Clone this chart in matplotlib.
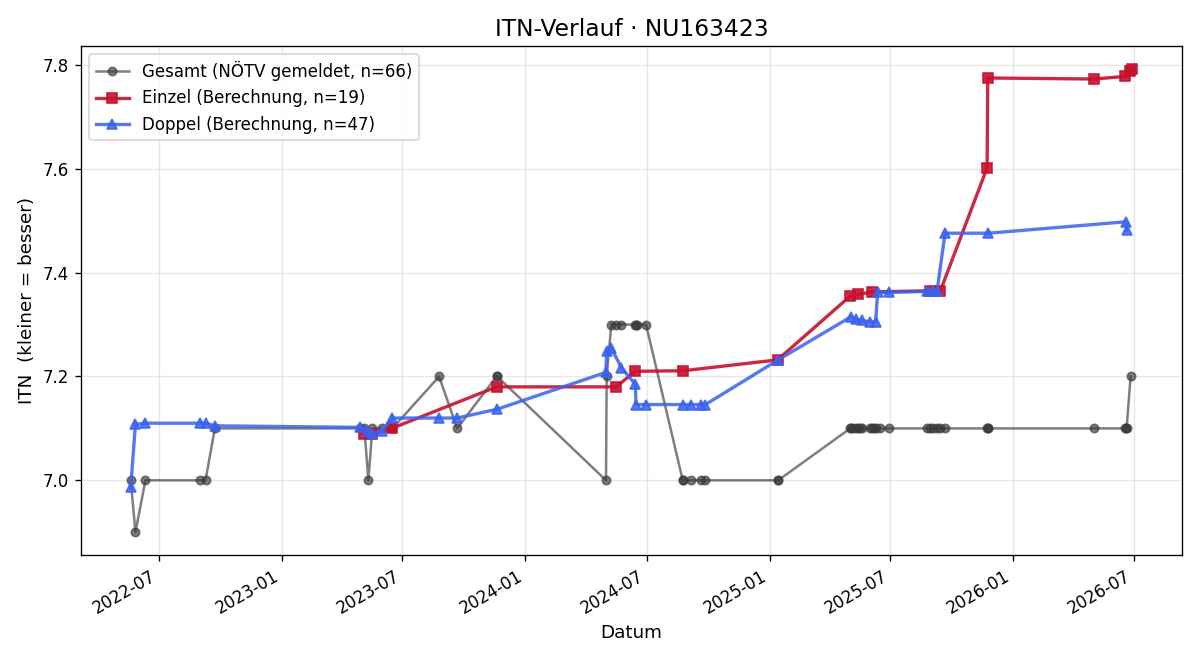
import matplotlib
matplotlib.use("Agg")
import matplotlib.pyplot as plt
import matplotlib.dates as mdates
import pandas as pd

# ---- data ----
gesamt_dates = [
    "2022-05-20", "2022-05-27", "2022-06-11", "2022-08-31", "2022-09-09", "2022-09-23",
    "2023-04-28", "2023-05-05", "2023-05-11", "2023-05-17", "2023-05-31", "2023-06-15",
    "2023-06-16", "2023-08-25", "2023-09-21", "2023-11-19", "2023-11-20",
    "2024-05-01", "2024-05-02", "2024-05-09", "2024-05-16", "2024-05-24", "2024-06-14",
    "2024-06-15", "2024-06-17", "2024-06-30",
    "2024-08-24", "2024-08-25", "2024-09-06", "2024-09-21", "2024-09-27",
    "2025-01-13", "2025-01-14",
    "2025-05-02", "2025-05-03", "2025-05-06", "2025-05-10", "2025-05-14", "2025-05-17",
    "2025-05-20", "2025-06-01", "2025-06-04", "2025-06-06", "2025-06-09", "2025-06-15",
    "2025-06-29",
    "2025-08-25", "2025-08-30", "2025-09-03", "2025-09-09", "2025-09-14", "2025-09-21",
    "2025-11-23", "2025-11-24", "2025-11-25",
    "2026-05-02", "2026-06-18", "2026-06-19", "2026-06-20", "2026-06-26",
]
gesamt_values = [
    7.0, 6.9, 7.0, 7.0, 7.0, 7.1,
    7.1, 7.1, 7.0, 7.1, 7.1, 7.1,
    7.1, 7.2, 7.1, 7.2, 7.2,
    7.0, 7.2, 7.3, 7.3, 7.3, 7.3,
    7.3, 7.3, 7.3,
    7.0, 7.0, 7.0, 7.0, 7.0,
    7.0, 7.0,
    7.1, 7.1, 7.1, 7.1, 7.1, 7.1,
    7.1, 7.1, 7.1, 7.1, 7.1, 7.1,
    7.1,
    7.1, 7.1, 7.1, 7.1, 7.1, 7.1,
    7.1, 7.1, 7.1,
    7.1, 7.1, 7.1, 7.1, 7.2,
]

einzel_dates = [
    "2023-05-05", "2023-05-17", "2023-06-15", "2023-11-19", "2024-05-16",
    "2024-06-14", "2024-08-24", "2025-01-13", "2025-05-02", "2025-05-14",
    "2025-06-03", "2025-08-30", "2025-09-14", "2025-11-23", "2025-11-24",
    "2026-05-02", "2026-06-18", "2026-06-25", "2026-06-28",
]
einzel_values = [
    7.090, 7.090, 7.100, 7.180, 7.180,
    7.210, 7.211, 7.232, 7.355, 7.358,
    7.363, 7.365, 7.365, 7.602, 7.775,
    7.773, 7.778, 7.789, 7.792,
]

doppel_dates = [
    "2022-05-20", "2022-05-27", "2022-06-11", "2022-08-31", "2022-09-09", "2022-09-23",
    "2023-04-28", "2023-05-11", "2023-05-17", "2023-05-31", "2023-06-16",
    "2023-08-25", "2023-09-21", "2023-11-20",
    "2024-05-01", "2024-05-02", "2024-05-09", "2024-05-24", "2024-06-14", "2024-06-15",
    "2024-06-30", "2024-08-25", "2024-09-06", "2024-09-21", "2024-09-27",
    "2025-01-14", "2025-05-03", "2025-05-10", "2025-05-20", "2025-06-01",
    "2025-06-09", "2025-06-12", "2025-06-29", "2025-08-25", "2025-09-03",
    "2025-09-09", "2025-09-21", "2025-11-25", "2026-06-19", "2026-06-20",
]
doppel_values = [
    6.987, 7.108, 7.110, 7.110, 7.110, 7.105,
    7.102, 7.095, 7.090, 7.095, 7.120,
    7.120, 7.120, 7.137,
    7.208, 7.250, 7.255, 7.217, 7.185, 7.146,
    7.146, 7.146, 7.146, 7.146, 7.146,
    7.232, 7.315, 7.310, 7.308, 7.305,
    7.305, 7.362, 7.362, 7.364, 7.364,
    7.364, 7.476, 7.476, 7.498, 7.482,
]

title = "ITN-Verlauf · NU163423"

# ---- plot ----
fig, ax = plt.subplots(figsize=(10, 5.5), dpi=120)

ax.plot(pd.to_datetime(gesamt_dates), gesamt_values, color="#3a3a3a", alpha=0.65,
        marker="o", markersize=5, linewidth=1.5,
        label=f"Gesamt (NÖTV gemeldet, n={66})")
ax.plot(pd.to_datetime(einzel_dates), einzel_values, color="#c8102e", alpha=0.9,
        marker="s", markersize=6, linewidth=2,
        label=f"Einzel (Berechnung, n={19})")
ax.plot(pd.to_datetime(doppel_dates), doppel_values, color="#3a62ee", alpha=0.85,
        marker="^", markersize=6, linewidth=2,
        label=f"Doppel (Berechnung, n={47})")

ax.set_title(title, fontsize=14)
ax.set_xlabel("Datum", fontsize=11)
ax.set_ylabel("ITN  (kleiner = besser)", fontsize=11)
ax.grid(True, alpha=0.3)
ax.xaxis.set_major_locator(mdates.MonthLocator(bymonth=[1, 7]))
ax.xaxis.set_major_formatter(mdates.DateFormatter("%Y-%m"))
ax.legend(loc="upper left")
fig.autofmt_xdate()
fig.tight_layout()
fig.savefig("out.png", dpi=120)
